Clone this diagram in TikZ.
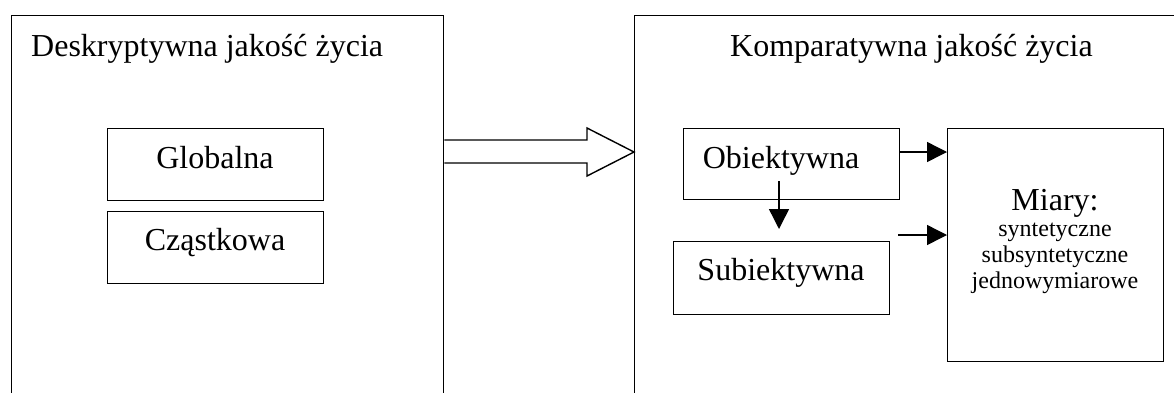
\documentclass[tikz,border=0pt]{standalone}
\usepackage{fontspec}
\setmainfont{Liberation Serif}
\usetikzlibrary{arrows.meta}
\begin{document}
\begin{tikzpicture}[x=1pt,y=-1pt,
  ln/.style={line width=1.4pt, draw=black},
  boxnode/.style={ln, rectangle, inner sep=0pt},
  bigtxt/.style={anchor=base, inner sep=0pt, font=\fontsize{32}{38}\selectfont},
  smalltxt/.style={anchor=base, inner sep=0pt, font=\fontsize{24}{28}\selectfont},
  arr/.style={ln, -{Triangle[length=20pt,width=20pt]}}]
\useasboundingbox (0,0) rectangle (1174,392);
\clip (0,0) rectangle (1174,392);
% outer frames
\node[boxnode, minimum width=432pt, minimum height=400pt, anchor=north west] (left) at (11,15) {};
\node[boxnode, minimum width=600pt, minimum height=400pt, anchor=north west] (right) at (634,15) {};
\node[bigtxt, anchor=base west] (ltitle) at (31,56) {Deskryptywna jakość życia};
\node[bigtxt, anchor=base west] (rtitle) at (730,56) {Komparatywna jakość życia};
% left inner boxes
\node[boxnode, minimum width=216pt, minimum height=72pt, anchor=north west] (glob) at (107,128) {};
\node[boxnode, minimum width=216pt, minimum height=72pt, anchor=north west] (czas) at (107,211) {};
\node[bigtxt] (globt) at (215,168) {Globalna};
\node[bigtxt] (czast) at (215,250) {Cząstkowa};
% hollow arrow
\draw[ln, fill=white] (left.east |- 0,140) -- (587,140) -- (587,128) -- (right.west |- 0,152) -- (587,176) -- (587,163) -- (left.east |- 0,163);
% right inner boxes
\node[boxnode, minimum width=216pt, minimum height=71pt, anchor=north west] (obj) at (683,128) {};
\node[boxnode, minimum width=216pt, minimum height=73pt, anchor=north west] (sub) at (673,241) {};
\node[boxnode, minimum width=216pt, minimum height=233pt, anchor=north west] (miary) at (947,128) {};
\node[bigtxt] (objt) at (781,168) {Obiektywna};
\node[bigtxt] (subt) at (781,280) {Subiektywna};
\node[bigtxt] (miaryt) at (1055,210) {Miary:};
\node[smalltxt] (m1) at (1055,236) {syntetyczne};
\node[smalltxt] (m2) at (1055,262) {subsyntetyczne};
\node[smalltxt] (m3) at (1055,288) {jednowymiarowe};
% arrows
\coordinate (d1) at (779,181);
\coordinate (d2) at (779,229);
\draw[arr] (d1) -- (d2);
\draw[arr] (obj.east |- 0,152) -- (miary.west |- 0,152);
\coordinate (a2) at (898,235);
\draw[arr] (a2) -- (a2 -| miary.west);
\end{tikzpicture}
\end{document}
